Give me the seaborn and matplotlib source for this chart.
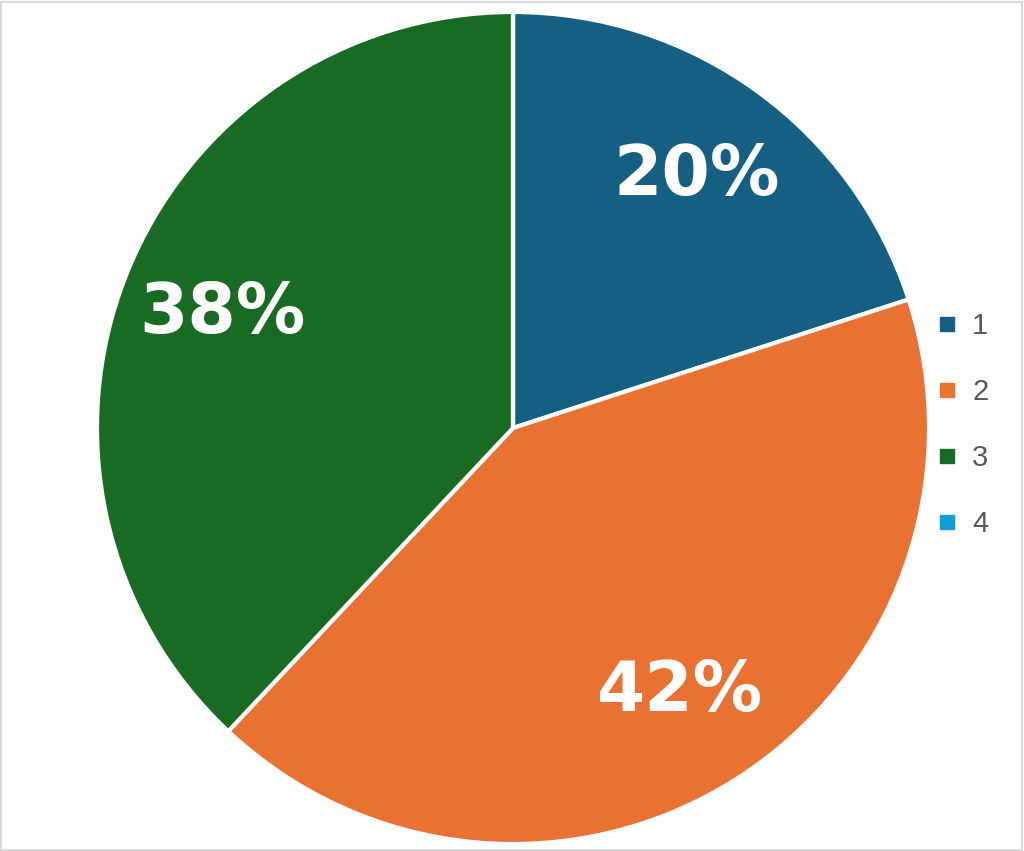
import numpy as np
import matplotlib
matplotlib.use("Agg")
import matplotlib.pyplot as plt
import seaborn as sns
from matplotlib.lines import Line2D
from matplotlib.patches import Rectangle

# data
categories = ["1", "2", "3", "4"]
shares = [20, 42, 38, 0]
colors = ["#156082", "#E97132", "#196B24", "#0F9ED5"]

sns.set_theme(style="white")
palette = sns.color_palette(colors)

fig = plt.figure(figsize=(10.24, 8.51), dpi=100)
W, H = 1024, 851
cx, cy, r = 513, 428, 416
ax = fig.add_axes([(cx - r) / W, (H - cy - r) / H, 2 * r / W, 2 * r / H])

def pct_label(p):
    return "" if p < 0.5 else f"{p:.0f}%"

wedges, texts, autotexts = ax.pie(
    shares, colors=palette, startangle=90, counterclock=False,
    autopct=pct_label, pctdistance=0.75, radius=1,
    wedgeprops=dict(edgecolor="white", linewidth=3),
    textprops=dict(color="white", fontsize=50, fontweight="bold",
                   family="DejaVu Sans"))
ax.set_xlim(-1, 1)
ax.set_ylim(-1, 1)
ax.set_aspect("equal")

# legend with small square markers
handles = [Line2D([], [], marker="s", linestyle="none", markersize=10,
                  markerfacecolor=c, markeredgecolor=c) for c in palette]
leg = fig.legend(handles, categories, loc="center left",
                 bbox_to_anchor=(908 / W, 1 - 425 / H), frameon=False,
                 labelspacing=1.3, handletextpad=0.4, handlelength=0.9,
                 prop=dict(family="Liberation Sans", size=21))
for t in leg.get_texts():
    t.set_color("#595959")

# light frame around the chart area
fig.patches.append(Rectangle((0.001, 0.001), 0.997, 0.997, transform=fig.transFigure,
                             fill=False, edgecolor="#D9D9D9", linewidth=1.5))

fig.savefig("out.png", dpi=100, facecolor="white")
